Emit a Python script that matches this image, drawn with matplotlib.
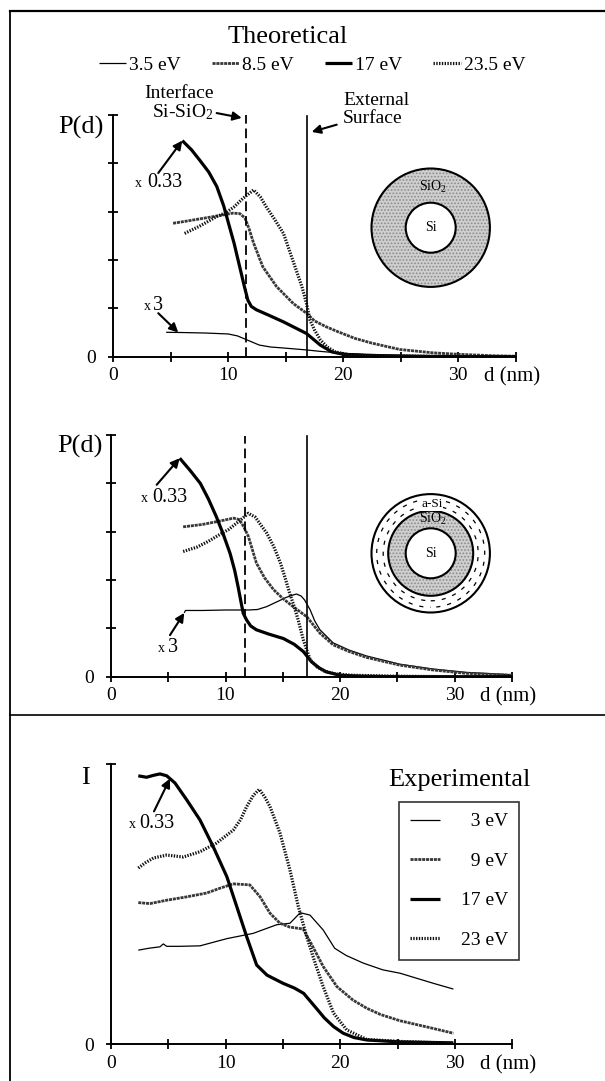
import numpy as np
import matplotlib
matplotlib.use("Agg")
import matplotlib.pyplot as plt
from matplotlib.patches import Circle
from matplotlib.lines import Line2D

plt.rcParams['font.family'] = ['Liberation Serif', 'DejaVu Serif']
plt.rcParams['mathtext.fontset'] = 'custom'
plt.rcParams['mathtext.rm'] = 'Liberation Serif'
plt.rcParams['mathtext.it'] = 'Liberation Serif'
plt.rcParams['lines.scale_dashes'] = False
plt.rcParams['hatch.linewidth'] = 0.8

# ---------------- data: theoretical, SiO2 shell ----------------
d35_1 = [4.6, 6.0, 8.0, 10.0, 10.8, 11.3, 12.0, 12.7, 13.7, 14.8, 16.8, 18.0, 20.0, 22.0, 25.0, 28.0, 31.0, 35.0]
p35_1 = [0.505, 0.5, 0.49, 0.47, 0.43, 0.38, 0.31, 0.24, 0.2, 0.18, 0.14, 0.11, 0.07, 0.05, 0.03, 0.02, 0.01, 0.0]
d85_1 = [5.2, 6.5, 8.0, 9.5, 10.4, 11.0, 11.45, 11.8, 12.2, 13.0, 14.2, 15.65, 16.8, 17.5, 18.5, 19.5, 21.0, 22.5, 24.9, 27.8, 30.0, 33.0, 35.0]
p85_1 = [2.76, 2.81, 2.87, 2.93, 2.97, 2.96, 2.87, 2.65, 2.35, 1.86, 1.45, 1.1, 0.9, 0.74, 0.62, 0.52, 0.38, 0.28, 0.15, 0.08, 0.05, 0.02, 0.01]
d17_1 = [6.0, 6.8, 7.5, 8.3, 9.0, 9.6, 10.1, 10.5, 10.85, 11.2, 11.4, 11.7, 12.0, 12.45, 13.5, 14.8, 15.8, 16.8, 17.4, 18.0, 19.0, 20.0, 22.0, 25.0, 30.0, 35.0]
p17_1 = [4.47, 4.28, 4.07, 3.82, 3.52, 3.12, 2.69, 2.35, 2.0, 1.65, 1.45, 1.17, 1.04, 0.97, 0.86, 0.72, 0.6, 0.48, 0.36, 0.24, 0.1, 0.05, 0.02, 0.01, 0.0, 0.0]
d235_1 = [6.2, 7.5, 9.0, 9.8, 10.5, 11.3, 12.2, 12.8, 13.3, 14.0, 14.8, 15.6, 16.4, 16.8, 17.1, 17.5, 18.0, 18.6, 19.3, 20.5, 23.0, 27.0, 31.0, 35.0]
p235_1 = [2.55, 2.7, 2.9, 2.98, 3.1, 3.28, 3.45, 3.3, 3.1, 2.85, 2.55, 2.0, 1.45, 1.1, 0.76, 0.55, 0.35, 0.2, 0.1, 0.04, 0.02, 0.01, 0.0, 0.0]

# ---------------- data: theoretical, SiO2 + a-Si shell ----------------
d35_2 = [6.4, 6.5, 8.0, 10.0, 12.0, 12.8, 13.6, 14.5, 15.3, 15.9, 16.2, 16.6, 16.9, 17.4, 17.8, 18.25, 19.4, 20.8, 22.3, 25.2, 28.1, 31.0, 35.0]
p35_2 = [1.32, 1.37, 1.37, 1.38, 1.38, 1.39, 1.45, 1.55, 1.64, 1.69, 1.71, 1.67, 1.59, 1.38, 1.15, 0.97, 0.7, 0.55, 0.43, 0.26, 0.16, 0.09, 0.04]
d85_2 = [6.3, 8.0, 9.5, 10.7, 11.2, 11.6, 12.0, 12.7, 13.4, 14.2, 15.0, 15.9, 17.1, 18.25, 19.4, 20.8, 22.3, 25.2, 28.1, 31.0, 35.0]
p85_2 = [3.1, 3.15, 3.22, 3.28, 3.25, 3.1, 2.9, 2.35, 2.05, 1.8, 1.62, 1.45, 1.24, 0.9, 0.66, 0.52, 0.4, 0.24, 0.14, 0.07, 0.03]
d17_2 = [6.0, 6.9, 7.8, 8.5, 9.2, 9.8, 10.4, 10.8, 11.1, 11.35, 11.55, 11.85, 12.2, 12.7, 13.8, 15.05, 16.0, 16.8, 17.5, 18.2, 18.8, 20.0, 22.0, 25.0, 30.0, 35.0]
p17_2 = [4.52, 4.27, 4.0, 3.68, 3.31, 2.95, 2.55, 2.2, 1.86, 1.55, 1.31, 1.17, 1.05, 0.97, 0.88, 0.79, 0.67, 0.52, 0.31, 0.18, 0.1, 0.03, 0.01, 0.0, 0.0, 0.0]
d235_2 = [6.3, 7.5, 8.5, 9.2, 10.3, 11.3, 12.0, 12.6, 13.6, 14.2, 14.8, 15.2, 15.6, 16.0, 16.35, 16.8, 17.1, 17.4, 18.0, 18.6, 19.5, 21.0, 25.0, 30.0, 35.0]
p235_2 = [2.59, 2.68, 2.8, 2.9, 3.05, 3.24, 3.38, 3.3, 2.97, 2.7, 2.35, 2.05, 1.73, 1.45, 1.17, 0.76, 0.55, 0.35, 0.2, 0.12, 0.06, 0.03, 0.01, 0.0, 0.0]

# ---------------- data: experimental ----------------
d3_3 = [2.38, 3.3, 4.27, 4.56, 4.86, 6.0, 7.76, 10.1, 12.4, 14.45, 15.6, 16.5, 17.35, 18.5, 19.5, 20.5, 22.0, 23.7, 25.2, 28.1, 29.85]
p3_3 = [1.96, 2.0, 2.03, 2.09, 2.04, 2.04, 2.05, 2.2, 2.31, 2.49, 2.52, 2.74, 2.69, 2.38, 2.0, 1.85, 1.69, 1.55, 1.48, 1.27, 1.15]
d9_3 = [2.38, 3.4, 4.86, 6.6, 8.34, 9.5, 10.66, 12.1, 13.0, 13.86, 14.73, 15.6, 16.76, 17.6, 18.5, 19.7, 21.1, 22.3, 23.5, 25.2, 28.1, 29.85]
p9_3 = [2.95, 2.93, 3.0, 3.07, 3.15, 3.25, 3.34, 3.32, 3.07, 2.73, 2.52, 2.44, 2.4, 2.03, 1.62, 1.2, 0.92, 0.75, 0.62, 0.49, 0.33, 0.23]
d17_3 = [2.38, 3.1, 3.7, 4.27, 4.86, 5.58, 6.6, 7.76, 8.9, 10.1, 10.96, 11.83, 12.7, 13.6, 15.0, 16.0, 16.8, 17.9, 18.6, 19.4, 20.25, 21.2, 22.3, 25.2, 27.5, 29.85]
p17_3 = [5.59, 5.56, 5.6, 5.63, 5.59, 5.44, 5.09, 4.67, 4.12, 3.49, 2.87, 2.24, 1.65, 1.44, 1.27, 1.17, 1.06, 0.75, 0.55, 0.37, 0.23, 0.14, 0.09, 0.05, 0.04, 0.03]
d23_3 = [2.38, 3.0, 3.7, 4.86, 6.3, 7.76, 9.2, 10.66, 11.3, 11.83, 12.4, 12.93, 13.4, 13.86, 14.73, 15.6, 16.33, 17.06, 17.8, 18.5, 19.4, 20.55, 22.3, 25.2, 27.5, 29.85]
p23_3 = [3.67, 3.78, 3.88, 3.94, 3.9, 4.01, 4.19, 4.46, 4.68, 4.95, 5.18, 5.31, 5.15, 4.95, 4.4, 3.63, 2.87, 2.24, 1.69, 1.2, 0.65, 0.3, 0.1, 0.06, 0.04, 0.02]

theo_labels = ['3.5 eV', '8.5 eV', '17 eV', '23.5 eV']
exp_labels = ['\u20073 eV', '\u20079 eV', '17 eV', '23 eV']
xtick_vals = [0, 5, 10, 15, 20, 25, 30, 35]
xtick_labels = ['0', '', '10', '', '20', '', '30', '']
interface_1, surface_1 = 11.5, 16.85
interface_2, surface_2 = 11.7, 17.15

W, H = 605, 1081
fig = plt.figure(figsize=(W / 100, H / 100), dpi=100)


def px_axes(left, top, right, bottom):
    return fig.add_axes([left / W, 1 - bottom / H, (right - left) / W, (bottom - top) / H])


styles = [
    dict(color='k', lw=0.9, ls='-'),
    dict(color='#383838', lw=2.0, ls=(0, (2.2, 0.6))),
    dict(color='k', lw=2.3, ls='-'),
    dict(color='#111111', lw=2.3, ls=(0, (1.0, 1.0))),
]


def style_axes(ax, ymax, yticks):
    ax.set_xlim(0, 35)
    ax.set_ylim(0, ymax)
    for s in ['top', 'right']:
        ax.spines[s].set_visible(False)
    for s in ['left', 'bottom']:
        ax.spines[s].set_linewidth(1.4)
    ax.set_xticks(xtick_vals)
    ax.set_xticklabels(xtick_labels)
    ax.set_yticks(yticks)
    ax.set_yticklabels(['0'] + [''] * (len(yticks) - 1))
    ax.tick_params(axis='both', direction='inout', length=7, width=1.3,
                   labelsize=14, colors='k')
    ax.tick_params(axis='x', pad=4)
    ax.tick_params(axis='y', pad=9)
    ax.patch.set_alpha(0)
    ax.annotate('d (nm)', xy=(32.2, 0), xycoords='data', xytext=(0, -14.5),
                textcoords='offset points', ha='left', va='center', fontsize=15,
                annotation_clip=False)


def arrow(ax, tail, head):
    ax.annotate('', xy=head, xytext=tail, xycoords='data', textcoords='data',
                arrowprops=dict(arrowstyle='-|>', lw=1.5, color='k', mutation_scale=13,
                                shrinkA=0, shrinkB=0), annotation_clip=False)


def factor_label(ax, xx, x0, y, txt):
    ax.text(xx, y, 'x', fontsize=10, ha='center', va='baseline')
    ax.text(x0, y, txt, fontsize=14.5, ha='left', va='baseline')


# ---------------- panel 1 ----------------
ax1 = px_axes(113.3, 115, 113.3 + 35 * 11.5, 356.7)
style_axes(ax1, 5, [0, 1, 2, 3, 4, 5])
series1 = [(d35_1, p35_1), (d85_1, p85_1), (d17_1, p17_1), (d235_1, p235_1)]
handles = []
for (dx, py), st, lab in zip(series1, styles, theo_labels):
    h, = ax1.plot(dx, py, label=lab, solid_capstyle='butt', **st)
    handles.append(h)
ax1.plot([interface_1, interface_1], [0, 5], color='k', lw=1.3, ls=(0, (7, 3.5)))
ax1.plot([surface_1, surface_1], [0, 4.98], color='k', lw=1.2)
factor_label(ax1, 2.19, 2.93, 3.51, '0.33')
arrow(ax1, (3.91, 3.80), (d17_1[0], p17_1[0]))
factor_label(ax1, 2.97, 3.45, 0.97, '3')
arrow(ax1, (3.91, 0.90), (5.65, float(np.interp(5.65, d35_1, p35_1))))
arrow(ax1, (8.99, 5.04), (11.17, 4.94))
arrow(ax1, (19.43, 4.80), (17.25, 4.65))

fig.legend(handles=handles, loc='center', bbox_to_anchor=(312 / W, 1 - 65 / H),
           ncol=4, frameon=False, fontsize=14, handlelength=1.4, handletextpad=0.15,
           columnspacing=1.6, borderpad=0)

fig.text(287.5 / W, 1 - 43 / H, 'Theoretical', fontsize=19, ha='center', va='baseline')
fig.text(179 / W, 1 - 98 / H, 'Interface', fontsize=14, ha='center', va='baseline')
fig.text(213 / W, 1 - 117 / H, 'Si-SiO$_\\mathrm{2}$', fontsize=14, ha='right', va='baseline')
fig.text(343 / W, 1 - 105 / H, 'External', fontsize=14, ha='left', va='baseline')
fig.text(343 / W, 1 - 123 / H, 'Surface', fontsize=14, ha='left', va='baseline')
fig.text(58 / W, 1 - 127 / H, 'P(d)', fontsize=19, ha='left', va='center')

# ---------------- panel 2 ----------------
ax2 = px_axes(111, 435, 111 + 35 * 11.45, 676.7)
style_axes(ax2, 5, [0, 1, 2, 3, 4, 5])
series2 = [(d35_2, p35_2), (d85_2, p85_2), (d17_2, p17_2), (d235_2, p235_2)]
for (dx, py), st, lab in zip(series2, styles, theo_labels):
    ax2.plot(dx, py, label=lab, solid_capstyle='butt', **st)
ax2.plot([interface_2, interface_2], [0, 4.97], color='k', lw=1.3, ls=(0, (7, 3.5)))
ax2.plot([surface_2, surface_2], [0, 4.97], color='k', lw=1.2)
factor_label(ax2, 2.93, 3.58, 3.62, '0.33')
arrow(ax2, (3.99, 3.97), (d17_2[0], p17_2[0]))
factor_label(ax2, 4.41, 4.98, 0.51, '3')
arrow(ax2, (5.15, 0.86), (d35_2[0], p35_2[0]))
fig.text(57 / W, 1 - 446 / H, 'P(d)', fontsize=19, ha='left', va='center')

# ---------------- panel 3 ----------------
ax3 = px_axes(111, 764.3, 111 + 35 * 11.47, 1044.3)
style_axes(ax3, 5.83, [0, 5.83])
series3 = [(d3_3, p3_3), (d9_3, p9_3), (d17_3, p17_3), (d23_3, p23_3)]
handles3 = []
for (dx, py), st, lab in zip(series3, styles, exp_labels):
    h, = ax3.plot(dx, py, label=lab, solid_capstyle='butt', **st)
    handles3.append(h)
factor_label(ax3, 1.83, 2.44, 4.5, '0.33')
arrow(ax3, (3.75, 4.85), (5.14, float(np.interp(5.14, d17_3, p17_3))))
fig.text(85 / W, 1 - 778 / H, 'I', fontsize=19, ha='center', va='center')
fig.text(459 / W, 1 - 786 / H, 'Experimental', fontsize=19, ha='center', va='baseline')
leg = fig.legend(handles=handles3, loc='upper left', bbox_to_anchor=(399 / W, 1 - 802 / H),
                 frameon=True, fancybox=False, fontsize=14, handlelength=1.55,
                 handletextpad=1.1, labelspacing=1.13, borderpad=0.55, borderaxespad=0)
leg.get_frame().set_edgecolor('k')
leg.get_frame().set_linewidth(1.2)

# ---------------- core-shell diagrams ----------------
def circle_axes(cx, cy, size=140):
    a = px_axes(cx - size / 2, cy - size / 2, cx + size / 2, cy + size / 2)
    a.set_xlim(-size / 2, size / 2)
    a.set_ylim(-size / 2, size / 2)
    a.axis('off')
    return a

R_out, R_mid, R_in = 59.2, 42.5, 25.0
stipple = dict(facecolor='#cfcfcf', edgecolor='#8a8a8a', hatch='.....', lw=0)

c1 = circle_axes(430.7, 227.7)
c1.add_patch(Circle((0, 0), R_out, **stipple))
c1.add_patch(Circle((0, 0), R_out, fill=False, edgecolor='k', lw=1.5))
c1.add_patch(Circle((0, 0), R_in, facecolor='white', edgecolor='k', lw=1.5))
c1.text(0, 0, 'Si', fontsize=10, ha='center', va='center')
c1.text(2, 41, 'SiO$_\\mathrm{2}$', fontsize=10, ha='center', va='center')

c2 = circle_axes(430.7, 553.3)
c2.add_patch(Circle((0, 0), R_out, facecolor='white', edgecolor='k', lw=1.5))
c2.add_patch(Circle((0, 0), 47.5, fill=False, edgecolor='k', lw=0.9, ls=(0, (3, 5))))
c2.add_patch(Circle((0, 0), 54.0, fill=False, edgecolor='k', lw=0.9, ls=(4, (3, 5))))
c2.add_patch(Circle((0, 0), R_mid, **stipple))
c2.add_patch(Circle((0, 0), R_mid, fill=False, edgecolor='k', lw=1.5))
c2.add_patch(Circle((0, 0), R_in, facecolor='white', edgecolor='k', lw=1.5))
c2.text(0, 0, 'Si', fontsize=10, ha='center', va='center')
c2.text(2.5, 34, 'SiO$_\\mathrm{2}$', fontsize=10, ha='center', va='center')
c2.text(1, 49, 'a-Si', fontsize=9.5, ha='center', va='center',
        bbox=dict(facecolor='white', edgecolor='none', pad=0.5))

# ---------------- frame lines ----------------
fig.add_artist(Line2D([10 / W, 1], [1 - 11 / H, 1 - 11 / H], color='k', lw=1.6))
fig.add_artist(Line2D([10 / W, 10 / W], [0, 1 - 11 / H], color='k', lw=1.3))
fig.add_artist(Line2D([10 / W, 1], [1 - 715 / H, 1 - 715 / H], color='k', lw=1.2))

fig.savefig('out.png', dpi=100)
